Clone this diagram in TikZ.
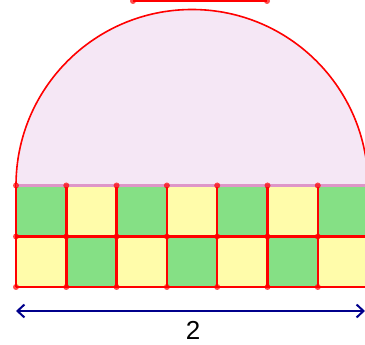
\documentclass[tikz,border=0pt]{standalone}
\usepackage{fontspec}
\setmainfont{Liberation Sans}
\usetikzlibrary{arrows.meta}
\definecolor{cgreen}{RGB}{133,224,133}
\definecolor{cyellow}{RGB}{255,252,170}
\definecolor{cpink}{RGB}{245,231,245}
\definecolor{cdiam}{RGB}{222,150,200}
\definecolor{cred}{RGB}{255,0,0}
\definecolor{cnavy}{RGB}{0,0,140}
\tikzset{
  gridline/.style={draw=cred, line width=2.4pt},
  vdot/.style={fill=cred, opacity=0.7},
}
\begin{document}
\begin{tikzpicture}[x=1pt,y=-1pt]
\useasboundingbox (0,0) rectangle (365,345);
\begin{scope}
\clip (0,0) rectangle (365,345);
% semicircle
\fill[cpink] (16,185.5) arc[start angle=180, end angle=360, radius=176] -- cycle;
% cells
\foreach \i in {0,...,6}{
  \pgfmathsetmacro{\xa}{16+50.3*\i}
  \pgfmathsetmacro{\xb}{16+50.3*(\i+1)}
  \pgfmathtruncatemacro{\cpar}{mod(\i,2)}
  \ifnum\cpar=0
    \fill[cgreen] (\xa,185.5) rectangle (\xb,236.5);
    \fill[cyellow] (\xa,236.5) rectangle (\xb,287);
  \else
    \fill[cyellow] (\xa,185.5) rectangle (\xb,236.5);
    \fill[cgreen] (\xa,236.5) rectangle (\xb,287);
  \fi
}
% grid lines
\foreach \i in {0,...,7}{
  \pgfmathsetmacro{\xa}{16+50.3*\i}
  \draw[gridline] (\xa,185.5) -- (\xa,287);
}
\draw[gridline] (16,236.5) -- (370,236.5);
\draw[gridline] (16,287) -- (370,287);
% arc and diameter
\draw[cred, line width=1.6pt] (16,185.5) arc[start angle=180, end angle=360, radius=176];
\draw[cdiam, line width=2.2pt] (16,185.5) -- (370,185.5);
% vertex dots
\foreach \i in {0,...,6}{
  \pgfmathsetmacro{\xa}{16+50.3*\i}
  \foreach \yy in {185.5,236.5,287}{
    \fill[vdot] (\xa,\yy) circle (3);
  }
}
% top segment
\coordinate (sa) at (133,1);
\coordinate (sb) at (267,1);
\draw[cred, line width=2.6pt] (sa) -- (sb);
\fill[vdot] (sa) circle (3);
\fill[vdot] (sb) circle (3);
% dimension arrow
\coordinate (al) at (16,311);
\coordinate (ar) at (365,311);
\draw[cnavy, line width=2pt, {Straight Barb[length=7pt,width=13pt]}-{Straight Barb[length=7pt,width=13pt]}] (al) -- (ar);
\end{scope}
\node[font=\fontsize{26}{28}\selectfont, inner sep=0pt, anchor=base] (lab) at (193,340) {2};
\end{tikzpicture}
\end{document}
